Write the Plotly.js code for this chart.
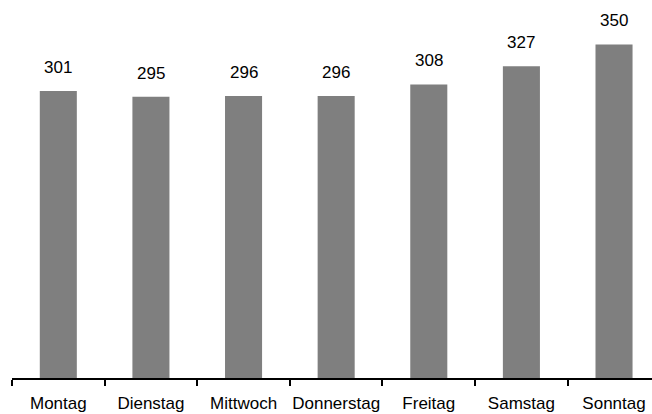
<!DOCTYPE html>
<html><head><meta charset="utf-8">
<script src="https://cdn.plot.ly/plotly-3.0.1.min.js"></script>
<style>html,body{margin:0;padding:0;background:#fff}</style>
</head><body>
<div id="chart" style="width:652px;height:414px"></div>
<script>
const days = ["Montag","Dienstag","Mittwoch","Donnerstag","Freitag","Samstag","Sonntag"];
const values = [301,295,296,296,308,327,350];

const font = {family: "'Liberation Sans Narrow', 'Liberation Sans', Arial, sans-serif", size: 17, color: "#000"};

const trace = {
  type: "bar", x: days, y: values,
  marker: {color: "#7f7f7f"},
  hoverinfo: "none"
};

const annotations = days.map((d, i) => ({
  x: d, y: values[i], xref: "x", yref: "y",
  text: String(values[i]), showarrow: false,
  yanchor: "bottom", yshift: 12, font: font
}));

const layout = {
  width: 652, height: 414,
  margin: {l: 12, r: 0, t: 0, b: 36},
  paper_bgcolor: "#fff", plot_bgcolor: "#fff",
  bargap: 0.6,
  showlegend: false,
  font: font,
  xaxis: {
    type: "category", range: [-0.5, 6.41],
    showline: true, linecolor: "#000", linewidth: 2,
    ticks: "outside", tickson: "boundaries", ticklen: 6, tickwidth: 2, tickcolor: "#000",
    showgrid: false, zeroline: false, tickfont: font, tickangle: 0,
    ticklabelstandoff: 9
  },
  yaxis: {range: [0, 396.6], visible: false, showgrid: false, zeroline: false},
  annotations: annotations
};

Plotly.newPlot("chart", [trace], layout, {staticPlot: true, displayModeBar: false});
</script>
</body></html>
